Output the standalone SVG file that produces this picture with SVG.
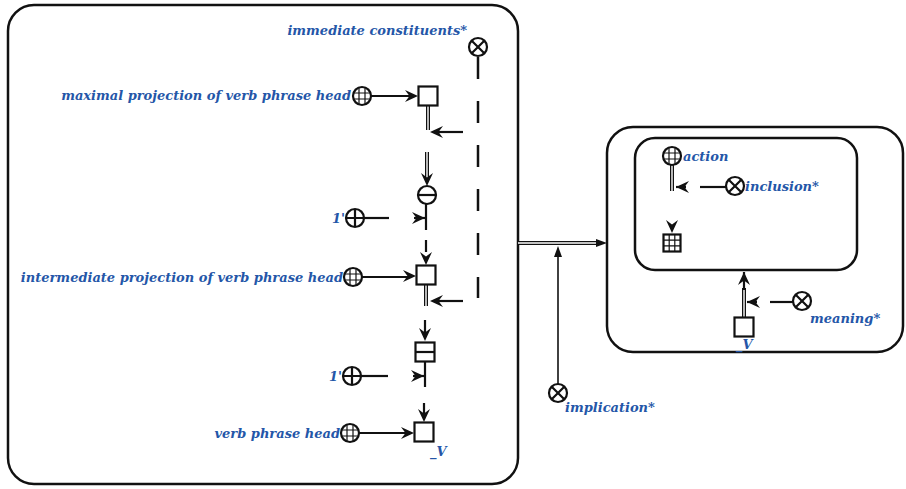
<svg xmlns="http://www.w3.org/2000/svg" xmlns:xlink="http://www.w3.org/1999/xlink" width="906" height="489" viewBox="0 0 906 489">
<style>
.box{fill:none;stroke:#111;stroke-width:2.5}
.sym{fill:#fff;stroke:#111;stroke-width:2.2}
.ln{fill:none;stroke:#111;stroke-width:2.2}
.thin{fill:none;stroke:#111;stroke-width:1.2}
.dbl{fill:none;stroke:#111;stroke-width:4}
.dbli{fill:none;stroke:#fff;stroke-width:1.4}
.lbl{font-family:"DejaVu Serif",serif;font-weight:bold;font-style:italic;font-size:13px;fill:#2456a8}
</style>
<defs>
<path id="ah" d="M0,0 L-13,-6 L-8.5,0 L-13,6 Z" fill="#111"/>
<path id="ahs" d="M0,0 L-11,-4 L-11,4 Z" fill="#111"/>
<g id="otimes"><circle class="sym" r="9"/><path class="ln" d="M-6.3,-6.3 L6.3,6.3 M6.3,-6.3 L-6.3,6.3"/></g>
<g id="oplus"><circle class="sym" r="9"/><path class="ln" d="M-9,0 H9 M0,-9 V9"/></g>
<g id="ominus"><circle class="sym" r="9"/><path class="ln" d="M-9,0 H9"/></g>
<g id="globe"><circle class="sym" r="9"/><path class="thin" d="M-8.5,-3 H8.5 M-8.5,3 H8.5 M-3,-8.5 V8.5 M3,-8.5 V8.5"/></g>
<g id="sq"><rect class="sym" x="-9.5" y="-9.5" width="19" height="19"/></g>
<g id="sqsplit"><rect class="sym" x="-9.5" y="-9.5" width="19" height="19"/><path class="ln" d="M-9.5,0 H9.5"/></g>
<g id="sqgrid"><rect class="sym" x="-8.5" y="-8.5" width="17" height="17"/><path class="thin" d="M-8.5,-2.8 H8.5 M-8.5,2.8 H8.5 M-2.8,-8.5 V8.5 M2.8,-8.5 V8.5"/></g>
</defs>

<g id="frames">
<rect class="box" x="8" y="5" width="510" height="479" rx="26"/>
<rect class="box" x="607" y="127" width="296" height="225" rx="26"/>
<rect class="box" x="635" y="138" width="222" height="132" rx="20"/>
</g>

<g id="connectors">
<path class="ln" d="M478,57 V298" stroke-dasharray="22,22" style="stroke-width:2.5"/>
<path class="ln" d="M463,132 H436"/><use xlink:href="#ah" transform="translate(430,132) rotate(180)"/>
<path class="ln" d="M463,301 H436"/><use xlink:href="#ah" transform="translate(430,301) rotate(180)"/>
<path class="ln" d="M371,96 H410"/><use xlink:href="#ah" transform="translate(418,96)"/>
<path class="dbl" d="M428,106 V130"/><path class="dbli" d="M428,106 V130"/>
<path class="dbl" d="M427,152 V178"/><path class="dbli" d="M427,152 V178"/>
<use xlink:href="#ah" transform="translate(427,186) rotate(90)"/>
<path class="ln" d="M426,204 V230"/>
<path class="ln" d="M364,218 H389"/><use xlink:href="#ah" transform="translate(425,218)"/><path class="ln" d="M414,218 H425"/>
<path class="ln" d="M426,240 V252"/><use xlink:href="#ah" transform="translate(426,265) rotate(90)"/>
<path class="ln" d="M362,277 H408"/><use xlink:href="#ah" transform="translate(416,276)"/>
<path class="dbl" d="M426,285 V306"/><path class="dbli" d="M426,285 V306"/>
<use xlink:href="#ah" transform="translate(425,341) rotate(90)"/><path class="ln" d="M425,320 V334"/>
<path class="ln" d="M425,362 V387"/>
<path class="ln" d="M361,376 H388"/><use xlink:href="#ah" transform="translate(424,376)"/><path class="ln" d="M413,376 H424"/>
<use xlink:href="#ah" transform="translate(424,422) rotate(90)"/><path class="ln" d="M424,403 V414"/>
<path class="ln" d="M359,433 H406"/><use xlink:href="#ah" transform="translate(414,433)"/>
<path class="dbl" d="M518,243 H600"/><path class="dbli" d="M518,243 H598"/>
<use xlink:href="#ahs" transform="translate(607,243)"/>
<path class="ln" style="stroke-width:1.6" d="M558,384 V254"/><use xlink:href="#ahs" transform="translate(558,246) rotate(-90)"/>
<path class="dbl" d="M672,165 V191"/><path class="dbli" d="M672,165 V191"/>
<path class="ln" d="M726,187 H700"/><use xlink:href="#ah" transform="translate(676,187) rotate(180)"/><path class="ln" d="M676,187 H686"/>
<use xlink:href="#ah" transform="translate(672,233) rotate(90)"/>
<path class="dbl" d="M744,288 V318"/><path class="dbli" d="M744,288 V318"/>
<use xlink:href="#ah" transform="translate(744,272) rotate(-90)"/><path class="ln" d="M744,272 V290"/>
<path class="ln" d="M793,302 H770"/><use xlink:href="#ah" transform="translate(747,302) rotate(180)"/><path class="ln" d="M747,302 H757"/>
</g>

<g id="n-immediate"><use xlink:href="#otimes" transform="translate(478,47)"/><text class="lbl" x="467" y="35" text-anchor="end">immediate constituents*</text></g>
<g id="n-maximal-src"><use xlink:href="#globe" transform="translate(362,96)"/><text class="lbl" x="351" y="100" text-anchor="end">maximal projection of verb phrase head</text></g>
<g id="n-maximal"><use xlink:href="#sq" transform="translate(428,96)"/></g>
<g id="n-ominus"><use xlink:href="#ominus" transform="translate(427,195)"/></g>
<g id="n-one1"><use xlink:href="#oplus" transform="translate(355,218)"/><text class="lbl" x="345" y="223" text-anchor="end">1'</text></g>
<g id="n-intermediate-src"><use xlink:href="#globe" transform="translate(353,277)"/><text class="lbl" x="343" y="282" text-anchor="end">intermediate projection of verb phrase head</text></g>
<g id="n-intermediate"><use xlink:href="#sq" transform="translate(426,275)"/></g>
<g id="n-split"><use xlink:href="#sqsplit" transform="translate(425,352)"/></g>
<g id="n-one2"><use xlink:href="#oplus" transform="translate(352,376)"/><text class="lbl" x="342" y="381" text-anchor="end">1'</text></g>
<g id="n-vph-src"><use xlink:href="#globe" transform="translate(350,433)"/><text class="lbl" x="340" y="438" text-anchor="end">verb phrase head</text></g>
<g id="n-vph"><use xlink:href="#sq" transform="translate(424,432)"/><text class="lbl" x="430" y="456">_V</text></g>
<g id="n-implication"><use xlink:href="#otimes" transform="translate(558,393)"/><text class="lbl" x="565" y="412">implication*</text></g>
<g id="n-action"><use xlink:href="#globe" transform="translate(672,156)"/><text class="lbl" x="683" y="161">action</text></g>
<g id="n-inclusion"><use xlink:href="#otimes" transform="translate(735,186)"/><text class="lbl" x="745" y="191">inclusion*</text></g>
<g id="n-grid"><use xlink:href="#sqgrid" transform="translate(672,243)"/></g>
<g id="n-meaning"><use xlink:href="#otimes" transform="translate(802,301)"/><text class="lbl" x="810" y="323">meaning*</text></g>
<g id="n-v"><use xlink:href="#sq" transform="translate(744,327)"/><text class="lbl" x="736" y="349">_V</text></g>
</svg>
